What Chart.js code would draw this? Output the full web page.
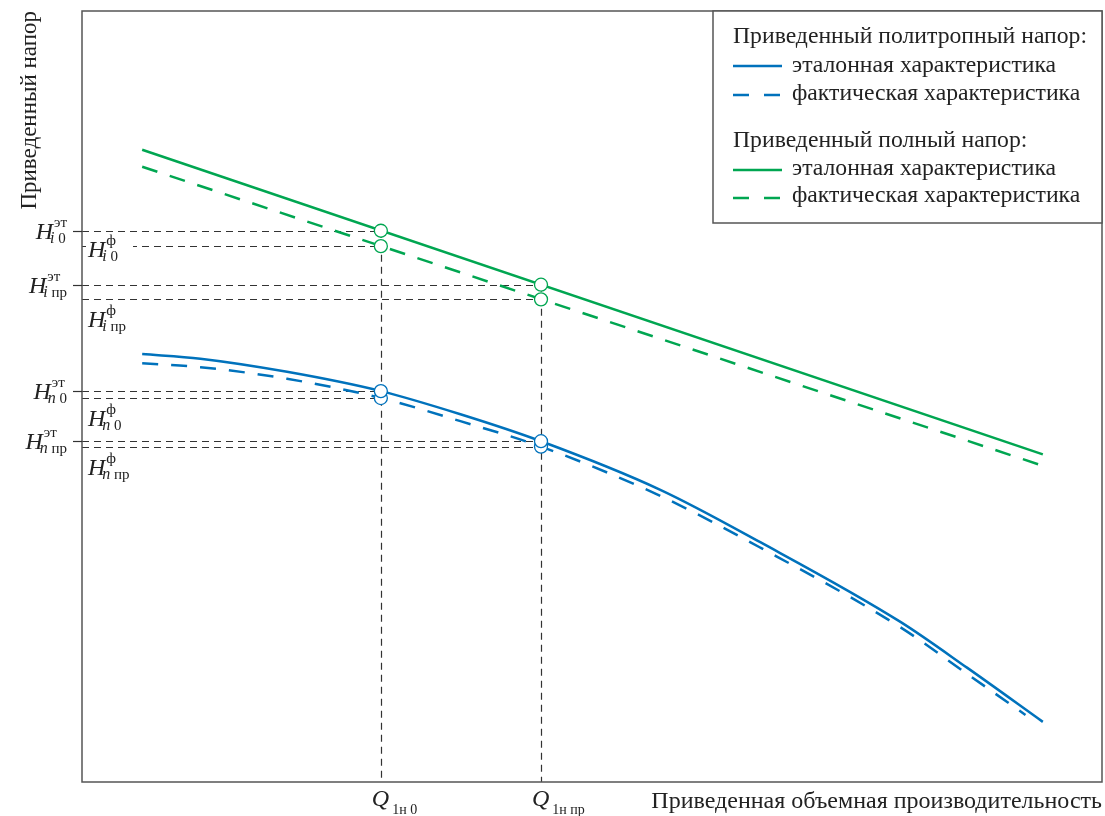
<!DOCTYPE html>
<html><head><meta charset="utf-8">
<script src="https://cdn.jsdelivr.net/npm/chart.js@4/dist/chart.umd.min.js"></script>
<style>html,body{margin:0;padding:0;background:#fff;}</style>
</head><body>
<canvas id="c" width="1105" height="816"></canvas>
<script>
// ---- data (arbitrary units) ----
const qValues = [2.93, 4.50];
const qSubs = ['1н 0', '1н пр'];

const xPolyRef = [0.59, 1.16, 2.01, 2.93, 3.71, 4.50, 5.67, 6.65, 8.02, 8.68, 9.42];
const polyRef  = [5.55, 5.49, 5.32, 5.07, 4.77, 4.42, 3.79, 3.11, 2.08, 1.48, 0.78];
const xPolyAct = [0.59, 1.16, 2.01, 2.93, 3.71, 4.50, 5.67, 6.65, 8.02, 8.68, 9.25];
const polyAct  = [5.43, 5.38, 5.23, 4.98, 4.68, 4.35, 3.71, 3.04, 2.01, 1.40, 0.87];
const xFullRef = [0.59, 9.42];
const fullRef  = [8.20, 4.25];
const xFullAct = [0.59, 9.40];
const fullAct  = [7.98, 4.11];

const fullRefAtQ = [7.15, 6.45];
const fullActAtQ = [6.95, 6.26];
const polyRefAtQ = [5.07, 4.42];
const polyActAtQ = [4.98, 4.35];

// y tick labels: H_{sub}^{sup}
const refTickValues = [fullRefAtQ[0], fullRefAtQ[1], polyRefAtQ[0], polyRefAtQ[1]];
const refTickSubL = ['i', 'i', 'n', 'n'];
const refTickSubR = [' 0', ' пр', ' 0', ' пр'];
const actTickValues = [fullActAtQ[0], fullActAtQ[1], polyActAtQ[0], polyActAtQ[1]];
const actTickSubL = ['i', 'i', 'n', 'n'];
const actTickSubR = [' 0', ' пр', ' 0', ' пр'];

const legendTitles = ['Приведенный политропный напор:', 'Приведенный полный напор:'];
const legendItems = ['эталонная характеристика', 'фактическая характеристика'];

// ---- styles ----
const BLUE = 'rgb(0,114,188)';
const GREEN = 'rgb(0,166,81)';
const TXT = '#222';
const FONT = '"Liberation Serif", "Times New Roman", serif';

const pts = (xs, ys) => xs.map((x, i) => ({x, y: ys[i]}));

function drawH(ctx, x, base, subL, subR, sup, align) {
  const fH = 'italic 24px ' + FONT;
  const fSup = '15px ' + FONT;
  const fSubL = 'italic 16px ' + FONT;
  const fSubR = '15px ' + FONT;
  ctx.font = fH; const wH = ctx.measureText('H').width;
  ctx.font = fSup; const wSup = ctx.measureText(sup).width;
  ctx.font = fSubL; const wSL = ctx.measureText(subL).width;
  ctx.font = fSubR; const wSR = ctx.measureText(subR).width;
  const supX = wH + 1, subX = wH - 3;
  const total = Math.max(supX + wSup, subX + wSL + wSR);
  const x0 = align === 'right' ? x - total : x;
  ctx.textAlign = 'left'; ctx.textBaseline = 'alphabetic'; ctx.fillStyle = TXT;
  ctx.font = fH; ctx.fillText('H', x0, base);
  ctx.font = fSup; ctx.fillText(sup, x0 + supX, base - 12);
  ctx.font = fSubL; ctx.fillText(subL, x0 + subX, base + 4);
  ctx.font = fSubR; ctx.fillText(subR, x0 + subX + wSL, base + 4);
  return total;
}

const guides = {
  id: 'guides',
  beforeDatasetsDraw(chart) {
    const {ctx, chartArea: a, scales: {x, y}} = chart;
    ctx.save();
    ctx.strokeStyle = '#333'; ctx.lineWidth = 1.2; ctx.setLineDash([7, 5]);
    [fullRefAtQ, fullActAtQ, polyRefAtQ, polyActAtQ].forEach(arr => {
      arr.forEach((v, i) => {
        const py = Math.round(y.getPixelForValue(v)) + 0.5;
        ctx.beginPath(); ctx.moveTo(a.left, py); ctx.lineTo(x.getPixelForValue(qValues[i]), py); ctx.stroke();
      });
    });
    qValues.forEach((q, i) => {
      const px = Math.round(x.getPixelForValue(q)) + 0.5;
      ctx.beginPath(); ctx.moveTo(px, y.getPixelForValue(fullRefAtQ[i])); ctx.lineTo(px, a.bottom); ctx.stroke();
    });
    ctx.restore();
  },
  afterDraw(chart) {
    const {ctx, chartArea: a, scales: {x, y}} = chart;
    ctx.save();
    // frame
    ctx.strokeStyle = '#555'; ctx.lineWidth = 1.5; ctx.setLineDash([]);
    ctx.strokeRect(a.left, a.top, a.right - a.left, a.bottom - a.top);
    // y ticks (reference values)
    ctx.strokeStyle = '#333'; ctx.lineWidth = 1.2;
    refTickValues.forEach((v, i) => {
      const py = Math.round(y.getPixelForValue(v)) + 0.5;
      ctx.beginPath(); ctx.moveTo(a.left - 9, py); ctx.lineTo(a.left, py); ctx.stroke();
      drawH(ctx, a.left - 15, py + 7, refTickSubL[i], refTickSubR[i], 'эт', 'right');
    });
    // actual values labels inside
    actTickValues.forEach((v, i) => {
      const py = y.getPixelForValue(v);
      if (i === 0) {
        ctx.fillStyle = '#fff';
        ctx.fillRect(a.left + 4, py - 4, 47, 8);
        drawH(ctx, a.left + 6, py + 11, actTickSubL[i], actTickSubR[i], 'ф', 'left');
      } else {
        drawH(ctx, a.left + 6, py + 28, actTickSubL[i], actTickSubR[i], 'ф', 'left');
      }
    });
    // Q labels
    qValues.forEach((q, i) => {
      const px = x.getPixelForValue(q);
      ctx.fillStyle = TXT; ctx.textAlign = 'left'; ctx.textBaseline = 'alphabetic';
      ctx.font = 'italic 24px ' + FONT;
      const wQ = ctx.measureText('Q').width;
      ctx.fillText('Q', px - 9, 806);
      ctx.font = '14px ' + FONT;
      ctx.fillText(qSubs[i], px - 9 + wQ + 3, 814);
    });
    // legend
    const W = 389, Hh = 212;
    const L = a.right - W, T = a.top;
    ctx.fillStyle = '#fff'; ctx.fillRect(L, T, W, Hh);
    ctx.strokeStyle = '#555'; ctx.lineWidth = 1.5; ctx.strokeRect(L, T, W, Hh);
    ctx.font = '23.7px ' + FONT; ctx.fillStyle = TXT;
    const groups = [[BLUE, 32, 55, 61, 84, 89], [GREEN, 136, 159, 164, 187, 191]];
    groups.forEach((g, gi) => {
      const [col, tb, l1, t1, l2, t2] = g;
      ctx.fillStyle = TXT;
      ctx.fillText(legendTitles[gi], L + 20, T + tb);
      ctx.strokeStyle = col; ctx.lineWidth = 2.5;
      ctx.setLineDash([]);
      ctx.beginPath(); ctx.moveTo(L + 20, T + l1); ctx.lineTo(L + 69, T + l1); ctx.stroke();
      ctx.setLineDash([16, 15]);
      ctx.beginPath(); ctx.moveTo(L + 20, T + l2); ctx.lineTo(L + 69, T + l2); ctx.stroke();
      ctx.setLineDash([]);
      ctx.fillText(legendItems[0], L + 79, T + t1);
      ctx.fillText(legendItems[1], L + 79, T + t2);
    });
    ctx.restore();
  }
};

const marker = (ys, col) => ({
  data: pts(qValues, ys), showLine: false, order: 0,
  pointRadius: 6.5, pointBackgroundColor: '#fff', pointBorderColor: col, pointBorderWidth: 1.3
});
const line = (xs, ys, col, dash, mono) => ({
  data: pts(xs, ys), borderColor: col, borderWidth: 2.5, borderDash: dash, pointRadius: 0, order: 1,
  cubicInterpolationMode: mono ? 'monotone' : 'default', tension: 0, fill: false, borderCapStyle: 'butt'
});

new Chart(document.getElementById('c'), {
  type: 'line',
  data: { datasets: [
    marker(fullRefAtQ, GREEN), marker(fullActAtQ, GREEN),
    marker(polyRefAtQ, BLUE), marker(polyActAtQ, BLUE),
    line(xFullRef, fullRef, GREEN, [], false),
    line(xFullAct, fullAct, GREEN, [16, 13], false),
    line(xPolyRef, polyRef, BLUE, [], true),
    line(xPolyAct, polyAct, BLUE, [16, 13], true)
  ]},
  options: {
    responsive: false, animation: false,
    layout: { autoPadding: false, padding: { top: 11, right: 3, left: 0, bottom: 0 } },
    plugins: { legend: { display: false }, tooltip: { enabled: false } },
    scales: {
      x: { type: 'linear', min: 0, max: 10, grid: { display: false }, border: { display: false },
           ticks: { display: false },
           title: { display: true, text: 'Приведенная объемная производительность', align: 'end',
                    color: TXT, font: { family: FONT, size: 24 }, padding: { top: 0, bottom: 0 } },
           afterFit(s) { s.height = 34; } },
      y: { type: 'linear', min: 0, max: 10, grid: { display: false }, border: { display: false },
           ticks: { display: false },
           title: { display: true, text: 'Приведенный напор', align: 'end',
                    color: TXT, font: { family: FONT, size: 23 }, padding: { top: 16, bottom: 0 } },
           afterFit(s) { s.width = 82; } }
    }
  },
  plugins: [guides]
});
</script>
</body></html>
